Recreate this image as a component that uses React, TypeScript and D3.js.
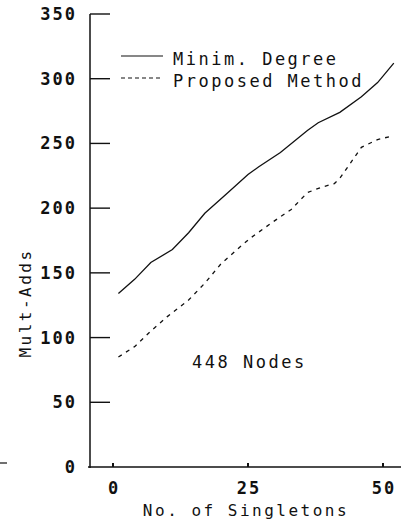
import React, { useEffect, useRef } from 'react';
import * as d3 from 'd3';

// Minim. Degree (solid)
const minDegX = [1, 4, 7, 11, 14, 17, 21, 25, 27, 31, 36, 38, 42, 46, 49, 52];
const minDegY = [134, 145, 158, 168, 181, 196, 211, 226, 232, 243, 260, 266, 274, 286, 297, 312];

// Proposed Method (dashed)
const propX = [1, 4, 7, 10, 14, 17, 20, 23.5, 25.5, 29.5, 33, 36, 38.5, 41, 42, 44, 46, 49, 52];
const propY = [85, 93, 105, 116, 129, 142, 157, 170, 177, 189, 199, 212, 216, 219, 223, 235, 247, 253, 256];

const yTicks = [0, 50, 100, 150, 200, 250, 300, 350];
const xTicks = [0, 25, 50];

const legendLabels = ['Minim. Degree', 'Proposed Method'];

const App: React.FC = () => {
  const svgRef = useRef<SVGSVGElement>(null);

  useEffect(() => {
    if (!svgRef.current) return;
    const svg = d3.select(svgRef.current);
    svg.selectAll('*').remove();

    const font = "'DejaVu Sans Mono', monospace";
    const ink = '#111';

    const x = d3.scaleLinear().domain([0, 50]).range([113, 383]);
    const y = d3.scaleLinear().domain([0, 350]).range([467, 14]);

    // axes lines
    svg.append('line')
      .attr('x1', 90).attr('y1', y(350)).attr('x2', 90).attr('y2', y(0) + 1)
      .attr('stroke', ink).attr('stroke-width', 1.5);
    svg.append('line')
      .attr('x1', 88).attr('y1', y(0)).attr('x2', 401).attr('y2', y(0))
      .attr('stroke', ink).attr('stroke-width', 1.5);

    // y ticks (inward)
    yTicks.forEach(t => {
      if (t > 0) {
        svg.append('line')
          .attr('x1', 90).attr('y1', y(t)).attr('x2', 110).attr('y2', y(t))
          .attr('stroke', ink).attr('stroke-width', 1.4);
      }
      svg.append('text')
        .attr('x', 77).attr('y', y(t) + 6)
        .attr('text-anchor', 'end')
        .attr('font-family', font).attr('font-size', 17)
        .attr('font-weight', 'bold')
        .attr('letter-spacing', 2)
        .attr('fill', ink)
        .text(t);
    });

    // x ticks (small, upward)
    xTicks.forEach(t => {
      svg.append('line')
        .attr('x1', x(t)).attr('y1', y(0)).attr('x2', x(t)).attr('y2', y(0) - 4)
        .attr('stroke', ink).attr('stroke-width', 2);
      svg.append('text')
        .attr('x', x(t) + 1).attr('y', 494)
        .attr('text-anchor', 'middle')
        .attr('font-family', font).attr('font-size', 17)
        .attr('font-weight', 'bold')
        .attr('letter-spacing', 2)
        .attr('fill', ink)
        .text(t);
    });

    // stray mark at left edge
    svg.append('line')
      .attr('x1', 0).attr('y1', 463).attr('x2', 7).attr('y2', 463)
      .attr('stroke', ink).attr('stroke-width', 1.2);

    const lineGen = d3.line<[number, number]>().x(d => x(d[0])).y(d => y(d[1]));

    svg.append('path')
      .attr('d', lineGen(minDegX.map((v, i) => [v, minDegY[i]] as [number, number])) || '')
      .attr('fill', 'none').attr('stroke', ink).attr('stroke-width', 1.3);

    svg.append('path')
      .attr('d', lineGen(propX.map((v, i) => [v, propY[i]] as [number, number])) || '')
      .attr('fill', 'none').attr('stroke', ink).attr('stroke-width', 1.3)
      .attr('stroke-dasharray', '4,5');

    // legend
    const legendY = [56, 78];
    legendLabels.forEach((label, i) => {
      svg.append('line')
        .attr('x1', 121).attr('y1', legendY[i]).attr('x2', i === 0 ? 163 : 160).attr('y2', legendY[i])
        .attr('stroke', ink).attr('stroke-width', 1.2)
        .attr('stroke-dasharray', i === 0 ? null : '4,3');
      svg.append('text')
        .attr('x', 173).attr('y', legendY[i] + 9)
        .attr('font-family', font).attr('font-size', 17)
        .attr('letter-spacing', 2.5)
        .attr('fill', ink)
        .text(label);
    });

    // annotation
    svg.append('text')
      .attr('x', 192).attr('y', 368)
      .attr('font-family', font).attr('font-size', 17)
      .attr('letter-spacing', 2.5)
      .attr('fill', ink)
      .text('448 Nodes');

    // axis titles
    svg.append('text')
      .attr('x', 246).attr('y', 516)
      .attr('text-anchor', 'middle')
      .attr('font-family', font).attr('font-size', 16)
      .attr('letter-spacing', 2.5)
      .attr('fill', ink)
      .text('No. of Singletons');

    svg.append('text')
      .attr('transform', `translate(31, 303) rotate(-90)`)
      .attr('text-anchor', 'middle')
      .attr('font-family', font).attr('font-size', 16)
      .attr('letter-spacing', 2.5)
      .attr('fill', ink)
      .text('Mult-Adds');
  }, []);

  return (
    <svg
      ref={svgRef}
      width={404}
      height={520}
      style={{ position: 'absolute', left: 0, top: 0, background: '#fff' }}
    />
  );
};

export default App;
